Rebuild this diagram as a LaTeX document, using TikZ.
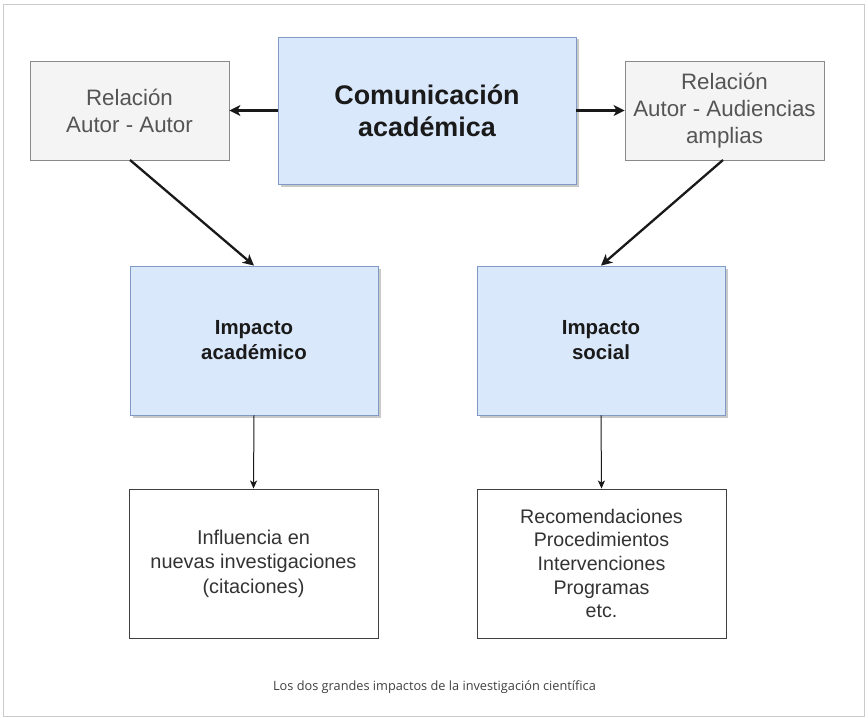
\documentclass[tikz,border=0pt]{standalone}
\usepackage{fontspec}
\setmainfont{Liberation Sans}
\newfontfamily\capfont{Open Sans}
\usetikzlibrary{arrows.meta,shadows}
\definecolor{bluefill}{HTML}{DAE8FC}
\definecolor{blueline}{HTML}{7F9AC4}
\definecolor{grayfill}{HTML}{F4F4F4}
\definecolor{grayline}{HTML}{8A8A8A}
\definecolor{graytext}{HTML}{555555}
\definecolor{darktext}{HTML}{1A1A1A}
\definecolor{framecol}{HTML}{CCCCCC}
\tikzset{
  bluebox/.style={draw=blueline, fill=bluefill, line width=0.8bp, align=center,
    text=darktext, inner sep=0pt,
    drop shadow={shadow xshift=2.5bp, shadow yshift=-2.5bp, opacity=0.35, fill=black!60}},
  graybox/.style={draw=grayline, fill=grayfill, line width=0.8bp, align=center,
    text=graytext, inner sep=0pt, minimum width=199bp, minimum height=99bp},
  whitebox/.style={draw=black!75, fill=white, line width=0.9bp, align=center,
    text=black!80, inner sep=0pt, minimum width=249bp, minimum height=149bp},
  thickarrow/.style={line width=2.3bp, draw=black!90, -{Stealth[length=11bp,width=11bp,inset=3bp]}},
  thinarrow/.style={line width=1bp, draw=black!90, -{Stealth[length=8bp,width=7bp,inset=2bp]}},
}
\begin{document}
\begin{tikzpicture}[x=1bp,y=-1bp]
\useasboundingbox (0,0) rectangle (868,718);
\fill[white] (0,0) rectangle (868,718);
\draw[framecol, line width=1bp] (3.5,4.5) rectangle (864.5,716);

\node[bluebox, minimum width=298bp, minimum height=147bp,
  font=\fontsize{27}{32}\selectfont\bfseries] (com) at (427,110.5) {Comunicación\\académica};
\node[graybox, font=\fontsize{22.4}{27}\selectfont] (aa) at (129.5,110.5) {Relación\\Autor - Autor};
\node[graybox, font=\fontsize{22.4}{27}\selectfont] (ad) at (724.5,110.5) {Relación\\Autor - Audiencias\\amplias};

\node[bluebox, minimum width=248bp, minimum height=149bp,
  font=\fontsize{20.5}{25}\selectfont\bfseries] (ia) at (254,340.5) {Impacto\\académico};
\node[bluebox, minimum width=248bp, minimum height=149bp,
  font=\fontsize{20.5}{25}\selectfont\bfseries] (is) at (601,340.5) {Impacto\\social};

\node[whitebox, font=\fontsize{20}{24.5}\selectfont] (inf) at (253.5,563.5) {Influencia en\\nuevas investigaciones\\(citaciones)};
\node[whitebox, font=\fontsize{19.7}{23.7}\selectfont] (rec) at (601.5,563.5) {Recomendaciones\\Procedimientos\\Intervenciones\\Programas\\etc.};

\node[font=\capfont\fontsize{12.8}{15}\selectfont, text=black!75] (cap) at (434.5,687) {Los dos grandes impactos de la investigación científica};

\draw[thickarrow] (com.west) -- (aa.east);
\draw[thickarrow] (com.east) -- (ad.west);
\coordinate (aas) at (130,160);
\coordinate (ads) at (723,160);
\draw[thickarrow] (aas) -- (ia.north);
\draw[thickarrow] (ads) -- (is.north);
\draw[thinarrow] (ia.south) -- (inf.north);
\draw[thinarrow] (is.south) -- (rec.north);
\end{tikzpicture}
\end{document}
